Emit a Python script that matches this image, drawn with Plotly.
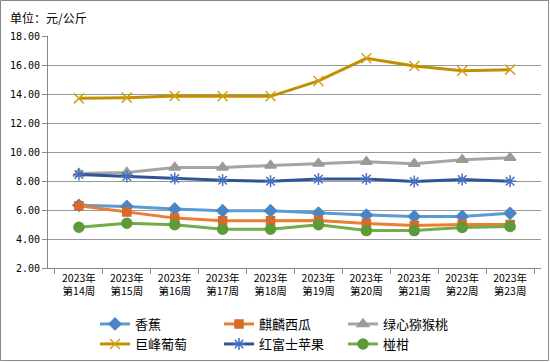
import plotly.graph_objects as go

weeks = ["2023年<br>第14周", "2023年<br>第15周", "2023年<br>第16周", "2023年<br>第17周", "2023年<br>第18周",
         "2023年<br>第19周", "2023年<br>第20周", "2023年<br>第21周", "2023年<br>第22周", "2023年<br>第23周"]

banana = [6.32, 6.25, 6.07, 5.95, 5.95, 5.79, 5.65, 5.56, 5.56, 5.77]
watermelon = [6.30, 5.86, 5.44, 5.26, 5.26, 5.28, 5.07, 4.93, 5.00, 5.00]
kiwi = [8.52, 8.59, 8.93, 8.93, 9.07, 9.21, 9.33, 9.19, 9.47, 9.61]
grape = [13.70, 13.75, 13.86, 13.84, 13.84, 14.90, 16.46, 15.93, 15.60, 15.68]
apple = [8.45, 8.31, 8.17, 8.05, 7.98, 8.14, 8.14, 7.96, 8.10, 7.98]
orange = [4.81, 5.09, 4.98, 4.67, 4.67, 4.98, 4.58, 4.58, 4.79, 4.86]

series = [
    ("香蕉", banana, "#5B9BD5", "#4A86C5", "diamond", 9, "legend"),
    ("麒麟西瓜", watermelon, "#ED7D31", "#D8692A", "square", 8, "legend"),
    ("绿心猕猴桃", kiwi, "#A5A5A5", "#9A9A9A", "triangle-up", 10, "legend"),
    ("巨峰葡萄", grape, "#BF9000", "#D4A017", "x-thin", 10, "legend2"),
    ("红富士苹果", apple, "#2F5597", "#4472C4", "asterisk", 10, "legend2"),
    ("椪柑", orange, "#70AD47", "#5E9A38", "circle", 10, "legend2"),
]

fig = go.Figure()
for name, vals, lc, mc, sym, sz, lg in series:
    fig.add_trace(go.Scatter(
        x=weeks, y=vals, name=name, mode="lines+markers", legend=lg,
        line=dict(color=lc, width=3),
        marker=dict(symbol=sym, size=sz, color=mc,
                    line=dict(color=mc, width=1.5)),
    ))

L, R, T, B = 48, 9, 36, 94
W, H = 550, 362
pw, ph = W - L - R, H - T - B

leg_common = dict(orientation="h", x=(95 - L) / pw, xanchor="left",
                  yanchor="top", entrywidth=79, entrywidthmode="pixels",
                  font=dict(size=13, family="Noto Sans CJK SC"),
                  tracegroupgap=0, itemwidth=30, bgcolor="rgba(0,0,0,0)")

fig.update_layout(
    width=W, height=H,
    margin=dict(l=L, r=R, t=T, b=B, autoexpand=False),
    paper_bgcolor="white", plot_bgcolor="white",
    font=dict(family="Noto Sans CJK SC", size=11, color="#000000"),
    showlegend=True,
    legend=dict(leg_common, y=-(309 - T - ph) / ph),
    legend2=dict(leg_common, y=-(329 - T - ph) / ph),
    annotations=[dict(text="单位：元/公斤", xref="paper", yref="paper",
                      x=-(L - 8) / pw, y=1 + (T - 17) / ph,
                      xanchor="left", yanchor="middle", showarrow=False,
                      font=dict(size=12, family="Noto Sans CJK SC"))],
    shapes=[dict(type="rect", xref="paper", yref="paper",
                 x0=-(L - 0.5) / pw, x1=1 + (R - 1.5) / pw,
                 y0=-(B - 1.5) / ph, y1=1 + (T - 0.5) / ph,
                 line=dict(color="#888888", width=1))],
)
fig.update_xaxes(
    showline=True, linecolor="#888888", linewidth=1,
    ticks="outside", tickson="boundaries", ticklen=5, tickcolor="#888888",
    showgrid=False, tickangle=0, automargin=False,
    tickfont=dict(size=10.5, family="Noto Sans CJK SC"),
)
fig.update_yaxes(
    range=[2, 18], dtick=2, tickformat=".2f",
    showline=True, linecolor="#888888", linewidth=1,
    ticks="outside", ticklen=5, tickcolor="#888888",
    showgrid=True, gridcolor="#999999", gridwidth=1,
    zeroline=False, automargin=False,
    tickfont=dict(size=10, family="DejaVu Sans Mono"),
)

fig.write_html(
    "out.html",
    config={"displayModeBar": False},
    post_script="document.body.style.margin='0';document.body.style.overflow='hidden';",
)
